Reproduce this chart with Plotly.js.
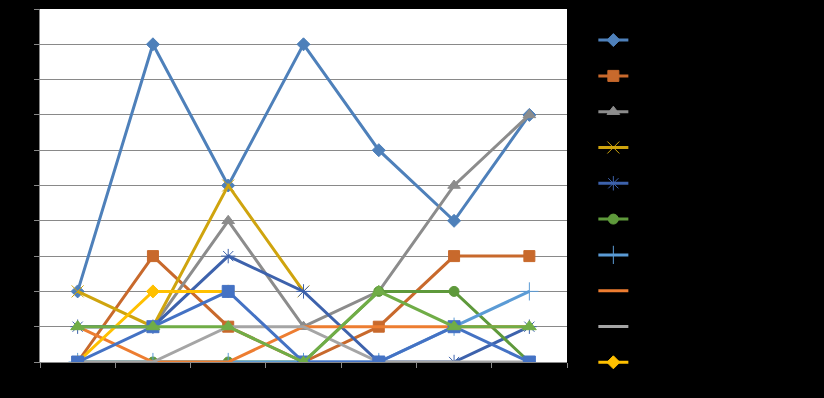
<!DOCTYPE html>
<html>
<head>
<meta charset="utf-8">
<script src="https://cdn.plot.ly/plotly-3.0.1.min.js"></script>
<style>html,body{margin:0;padding:0;background:#000;}#chart{width:824px;height:398px;}</style>
</head>
<body>
<div id="chart"></div>
<script>
const categories = ['1', '2', '3', '4', '5', '6', '7'];
const seriesNames = ['Series1','Series2','Series3','Series4','Series5','Series6','Series7','Series8','Series9','Series10','Series11','Series12'];
const s1 = [2, 9, 5, 9, 6, 4, 7];
const s2 = [0, 3, 1, 0, 1, 3, 3];
const s3 = [1, 1, 4, 1, 2, 5, 7];
const s4 = [2, 1, 5, 2, null, null, null];
const s5 = [1, 1, 3, 2, 0, 0, 1];
const s6 = [0, 0, 0, 0, 2, 2, 0];
const s7 = [0, 0, 0, 0, 0, 1, 2];
const s8 = [1, 0, 0, 1, 1, 1, 1];
const s9 = [0, 0, 1, 1, 0, 0, 0];
const s10 = [0, 2, 2, null, null, null, null];
const s11 = [0, 1, 2, 0, 0, 1, 0];
const s12 = [1, 1, 1, 0, 2, 1, 1];
const allSeries = [s1, s2, s3, s4, s5, s6, s7, s8, s9, s10, s11, s12];

const colors = ['#4E80BA', '#C8692C', '#8C8C8C', '#CFA40E', '#3D62AC', '#5E993B', '#5B9BD5', '#ED7D31', '#A5A5A5', '#FFC000', '#4472C4', '#70AD47'];
const symbols = ['diamond', 'square', 'triangle-up', 'x-thin-open', 'asterisk-open', 'circle', 'cross-thin-open', null, null, 'diamond', 'square', 'triangle-up'];
const sizes = [10, 11, 11, 12, 12, 10, 13, 0, 0, 10, 12, 12];
const inLegend = [true, true, true, true, true, true, true, true, true, true, false, false];

const traces = allSeries.map((ys, i) => {
  const t = {
    type: 'scatter',
    x: categories,
    y: ys,
    name: seriesNames[i],
    legendgroup: 'g' + i,
    showlegend: inLegend[i],
    mode: symbols[i] ? 'lines+markers' : 'lines',
    line: {color: colors[i], width: 3},
    connectgaps: false
  };
  if (symbols[i]) {
    t.marker = {symbol: symbols[i], size: sizes[i], color: colors[i], line: {color: colors[i], width: 1}};
  }
  return t;
});

const layout = {
  width: 824,
  height: 398,
  paper_bgcolor: '#000000',
  plot_bgcolor: '#FFFFFF',
  margin: {l: 40, r: 257, t: 9, b: 36},
  font: {family: 'Liberation Sans, Arial, sans-serif', size: 12, color: '#000000'},
  showlegend: true,
  legend: {
    x: 1.05, y: 0.953, xanchor: 'left', yanchor: 'top',
    bgcolor: 'rgba(0,0,0,0)',
    font: {color: '#000000', size: 12},
    tracegroupgap: 16.8
  },
  xaxis: {
    type: 'category',
    range: [-0.5, 6.5],
    tickson: 'boundaries',
    ticks: 'outside', ticklen: 5, tickcolor: '#898989',
    showline: true, linecolor: '#898989', linewidth: 1,
    showgrid: false, zeroline: false,
    tickfont: {color: '#000000'}
  },
  yaxis: {
    range: [0, 10], dtick: 1,
    ticks: 'outside', ticklen: 5, tickcolor: '#898989',
    showline: true, linecolor: '#898989', linewidth: 1,
    showgrid: true, gridcolor: '#898989', gridwidth: 1,
    zeroline: false,
    tickfont: {color: '#000000'}
  }
};

Plotly.newPlot('chart', traces, layout, {displayModeBar: false, staticPlot: true});
</script>
</body>
</html>
